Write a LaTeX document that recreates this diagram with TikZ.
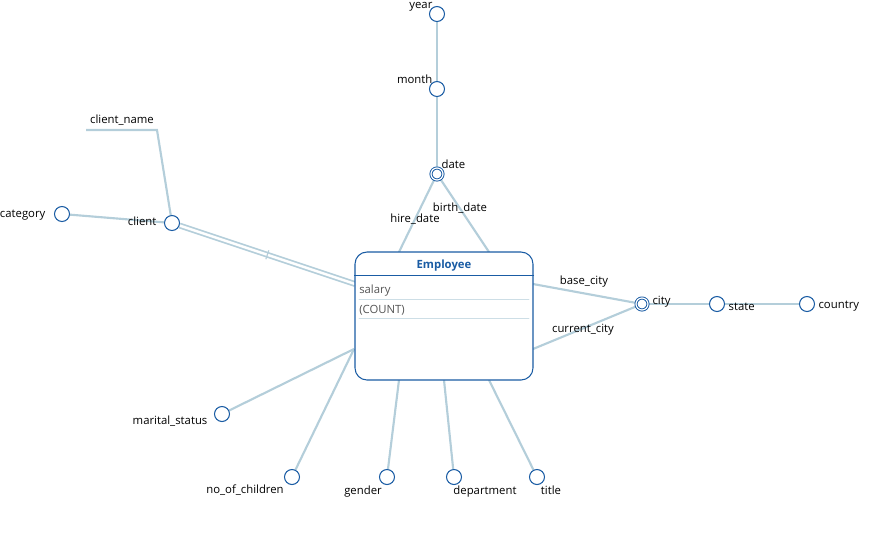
\documentclass[tikz,border=0pt]{standalone}
\usepackage{fontspec}
\setmainfont{Open Sans}
\usetikzlibrary{backgrounds}
\definecolor{erblue}{RGB}{26,92,164}
\definecolor{linkblue}{RGB}{180,206,218}
\definecolor{fieldgray}{RGB}{85,85,85}
\definecolor{rulegray}{RGB}{205,222,230}
\begin{document}
\begin{tikzpicture}[x=0.75pt,y=-0.75pt,line join=round,line cap=round,font=\fontsize{8.5}{10}\selectfont,
	attr/.style={circle,draw=erblue,fill=white,line width=0.8pt,minimum size=11.25pt,inner sep=0pt},
	keyattr/.style={attr,line width=0.7pt,double=white,double distance=0.9pt,minimum size=9pt},
	link/.style={draw=linkblue,line width=1.6pt},
	tick/.style={sloped,draw=linkblue,line width=0.9pt,minimum height=7pt,minimum width=0pt,inner sep=0pt},
	lbl/.style={inner sep=1pt,yshift=-1pt}]
	\useasboundingbox (0,0) rectangle (876,537);
	% Thực thể Employee
	\node[draw=erblue,fill=white,rounded corners=9pt,line width=0.8pt,minimum width=133.5pt,minimum height=96pt] (emp) at (444,316) {};
	\draw[erblue,line width=0.7pt] ([yshift=-18pt]emp.north west) -- ([yshift=-18pt]emp.north east);
	\node[font=\fontsize{8.5}{10}\selectfont\bfseries,text=erblue] (emptitle) at (444,266) {Employee};
	\node[anchor=west,text=fieldgray,inner sep=0pt] (salary) at (359,291) {salary};
	\node[anchor=west,text=fieldgray,inner sep=0pt] (count) at (359,310) {(COUNT)};
	\draw[rulegray,line width=0.6pt] (359,299) -- (529,299) (359,318) -- (529,318);
	% các thuộc tính
	\node[attr] (year) at (437,14) {};
	\node[attr] (month) at (437,89) {};
	\node[keyattr] (date) at (437,174) {};
	\node[attr] (client) at (172,223) {};
	\node[attr] (category) at (62,214) {};
	\node[keyattr] (city) at (642,304) {};
	\node[attr] (state) at (717,304) {};
	\node[attr] (country) at (807,304) {};
	\node[attr] (marital) at (222,414) {};
	\node[attr] (children) at (292,477) {};
	\node[attr] (gender) at (387,477) {};
	\node[attr] (dept) at (454,477) {};
	\node[attr] (title) at (537,477) {};
	\path 
	(434,5) node[lbl,anchor=east] (ylbl) {year}
	(434,78) node[lbl,anchor=east] (mlbl) {month}
	(440,163) node[lbl,anchor=west] (dlbl) {date}
	(415,218) node[lbl] (hlbl) {hire\_date}
	(460,207) node[lbl] (blbl) {birth\_date}
	(122,119) node[lbl] (cnlbl) {client\_name}
	(158,220) node[lbl,anchor=east] (cllbl) {client}
	(47,214) node[lbl,anchor=east] (catlbl) {category}
	(584,280) node[lbl] (bclbl) {base\_city}
	(583,328) node[lbl] (cclbl) {current\_city}
	(651,300) node[lbl,anchor=west] (citylbl) {city}
	(727,305) node[lbl,anchor=west] (stlbl) {state}
	(817,305) node[lbl,anchor=west] (colbl) {country}
	(209,420) node[lbl,anchor=east] (malbl) {marital\_status}
	(245,489) node[lbl] (nolbl) {no\_of\_children}
	(363,490) node[lbl] (gelbl) {gender}
	(485,490) node[lbl] (delbl) {department}
	(551,489) node[lbl] (tilbl) {title}
	;
	\coordinate (e-hire) at (399,252);
	\coordinate (e-birth) at (489,252);
	\coordinate (e-client) at (355,284);
	\coordinate (e-base) at (533,284);
	\coordinate (e-curr) at (533,349);
	\coordinate (e-left) at (354,349);
	\coordinate (e-gen) at (399,380);
	\coordinate (e-dep) at (444,380);
	\coordinate (e-tit) at (489,380);
	\coordinate (cn-bend) at (157,130);
	\coordinate (cn-end) at (86,130);
	\begin{scope}[on background layer]
		\draw[link] (year) -- (month) -- (date);
		\draw[link] (date) -- (e-hire);
		\draw[link] (date) -- (e-birth);
		\draw[link] (category) -- (client);
		\draw[link] (client) -- (cn-bend) -- (cn-end);
		\draw[link,line width=1.3pt,double=white,double distance=1.8pt,line cap=butt] (client) -- (e-client) node[tick,pos=0.5] {};
		\draw[link] (e-base) -- (city);
		\draw[link] (e-curr) -- (city);
		\draw[link] (city) -- (state) -- (country);
		\draw[link] (e-left) -- (marital);
		\draw[link] (e-left) -- (children);
		\draw[link] (e-gen) -- (gender);
		\draw[link] (e-dep) -- (dept);
		\draw[link] (e-tit) -- (title);
	\end{scope}
\end{tikzpicture}
\end{document}
